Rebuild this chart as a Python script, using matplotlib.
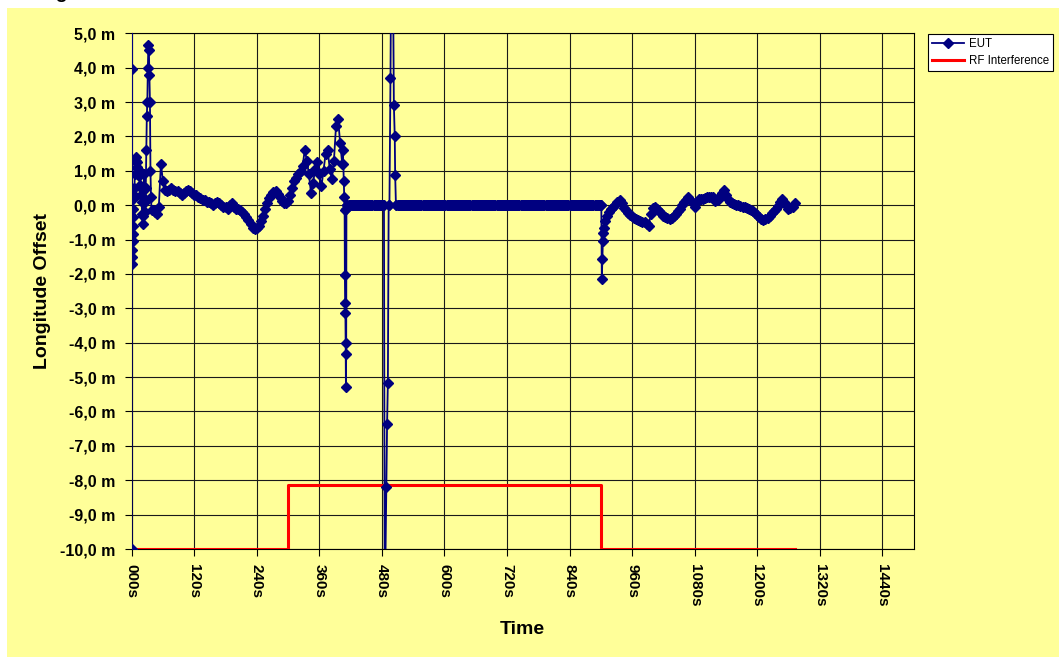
import numpy as np
import matplotlib.pyplot as plt
from matplotlib.patches import Rectangle

plt.rcParams['font.family'] = ['Liberation Sans', 'DejaVu Sans']

# EUT longitude offset (m) against time (s)
start_t = [0, 0.1, 0.3, 0.6, 0.9, 1.2, 1.5, 1.8, 2.1, 2.4, 2.7, 3.0, 3.5, 4, 5, 6, 7, 8, 9, 10,
           11, 12, 13, 14, 15, 16, 17, 18, 19, 20, 21, 22, 23, 24, 25, 26, 27, 28, 29, 30,
           31, 32, 33, 34, 35, 36, 37, 38]
start_v = [-10.0, 9.0, 3.97, 0.45, -1.7, -1.5, -1.3, -1.05, -0.85, -0.6, -0.35, -0.1, 0.2, 0.5, 0.3, 0.9, 1.3, 1.4, 1.3, 1.25,
           1.1, 0.95, 1.05, 0.85, 0.9, 0.6, 0.3, 0.5, 0.1, -0.25, -0.55, -0.3, 0.2, 0.9, 0.1, -0.2, 0.5, 1.6, 2.6, 3.0,
           4.0, 4.67, 4.5, 3.8, 3.0, 1.0, 0.25, -0.15]

early_t = list(range(40, 405, 4))
early_v = [-0.15, -0.2, -0.25, -0.05, 1.2, 0.7, 0.45, 0.4, 0.45, 0.5,
           0.45, 0.4, 0.4, 0.35, 0.3, 0.35, 0.4, 0.45, 0.4, 0.35,
           0.3, 0.3, 0.25, 0.2, 0.15, 0.15, 0.1, 0.1, 0.05, 0.0,
           0.05, 0.1, 0.05, 0.0, -0.05, -0.05, -0.1, 0.0, 0.05, -0.05,
           -0.1, -0.1, -0.15, -0.2, -0.25, -0.33, -0.42, -0.55, -0.65, -0.68,
           -0.67, -0.6, -0.45, -0.3, -0.12, 0.05, 0.2, 0.3, 0.38, 0.4,
           0.32, 0.25, 0.12, 0.06, 0.06, 0.12, 0.3, 0.5, 0.7, 0.8,
           0.9, 1.0, 1.15, 1.6, 1.3, 0.9, 0.35, 0.65, 1.05, 1.25,
           0.9, 0.55, 1.0, 1.5, 1.6, 1.05, 0.75, 1.3, 2.3, 2.5,
           1.8, 1.2]

drop1_t = [405, 406, 407, 408, 408.5, 409, 409.5, 410, 410.5, 411, 411.5, 412, 413]
drop1_v = [1.6, 1.2, 0.7, 0.25, -0.13, -2.03, -2.85, -3.14, -4.0, -5.3, -4.33, -0.1, 0.0]

# receiver holds a zero offset while the interference is on
hold1_t = list(range(414, 484, 2))
hold1_v = [0.0] * len(hold1_t)

spike_t = [484, 485.5, 488.5, 490, 491.5, 493, 494.5, 496.5, 498, 501, 503, 504.7, 505.5, 507]
spike_v = [0.0, -12.0, -8.2, -6.36, -5.17, 0.0, 0.0, 3.71, 7.5, 7.5, 2.92, 2.0, 0.88, 0.0]

hold2_t = list(range(508, 901, 2))
hold2_v = [0.0] * len(hold2_t)

drop2_t = [901, 902, 903, 904, 905, 906]
drop2_v = [0.0, -2.15, -1.57, -1.04, -0.8, -0.65]

late_t = list(range(908, 1273, 4))
late_v = [-0.45, -0.3, -0.2, -0.1, -0.05, 0.02, 0.1, 0.15, 0.05, -0.07,
          -0.15, -0.24, -0.28, -0.32, -0.36, -0.4, -0.44, -0.46, -0.48, -0.5,
          -0.55, -0.6, -0.25, -0.08, -0.05, -0.12, -0.18, -0.24, -0.3, -0.35,
          -0.37, -0.39, -0.36, -0.31, -0.26, -0.18, -0.1, 0.0, 0.08, 0.16,
          0.24, 0.15, 0.05, -0.04, 0.1, 0.19, 0.19, 0.18, 0.2, 0.23,
          0.24, 0.25, 0.24, 0.12, 0.15, 0.27, 0.35, 0.43, 0.3, 0.17,
          0.1, 0.06, 0.04, 0.02, 0.0, -0.02, -0.04, -0.06, -0.08, -0.1,
          -0.14, -0.18, -0.24, -0.29, -0.35, -0.4, -0.44, -0.4, -0.36, -0.3,
          -0.24, -0.18, -0.1, -0.02, 0.1, 0.19, 0.1, 0.0, -0.1, -0.08,
          -0.05, 0.05]

# RF interference level
rf_t = [0, 300, 900, 1273]
rf_v = [-10.0, -8.15, -10.0, -10.0]

x_ticks = list(range(0, 1441, 120))
y_ticks = list(range(-10, 6))

eut_t = start_t + early_t + drop1_t + hold1_t + spike_t + hold2_t + drop2_t + late_t
eut_v = start_v + early_v + drop1_v + hold1_v + spike_v + hold2_v + drop2_v + late_v

W, H = 1059, 657
fig = plt.figure(figsize=(W / 100, H / 100), dpi=100)
fig.patch.set_facecolor('white')
fig.patches.append(Rectangle((7 / W, 0), 1, 1 - 8 / H, transform=fig.transFigure,
                             facecolor='#FFFF99', edgecolor='none', zorder=-10))
# chart title, cut off by the top edge as in the original screenshot
fig.text(20 / W, 1 + 2 / H, 'Longitude Offset', fontsize=14, fontweight='bold', va='baseline')

ax = fig.add_axes([131.7 / W, 1 - 549 / H, (913.5 - 131.7) / W, (549 - 33.3) / H])
ax.set_facecolor('#FFFF99')

ax.plot(rf_t, rf_v, color='#FF0000', lw=2.2, drawstyle='steps-post', label='RF Interference', zorder=3)
ax.plot(eut_t, eut_v, color='#000080', lw=1.3, marker='D', markersize=5.5, label='EUT', zorder=4)

ax.set_xlim(0, 1500)
ax.set_ylim(-10, 5)
ax.set_xticks(x_ticks)
ax.set_xticklabels([f'{t:03d}s' for t in x_ticks], rotation=-90, fontsize=11, fontweight='bold')
ax.set_yticks(y_ticks)
ax.set_yticklabels([f'{v:.1f} m'.replace('.', ',') for v in y_ticks], fontsize=11.5, fontweight='bold')
ax.tick_params(direction='out', length=5, width=0.8, color='black', pad=7)
ax.tick_params(axis='x', pad=6)
ax.grid(True, color='#1a1a1a', lw=0.8)
ax.set_axisbelow(True)
for s in ax.spines.values():
    s.set_color('black')
    s.set_linewidth(0.8)

ax.set_xlabel('Time', fontsize=14, fontweight='bold', labelpad=10)
ax.set_ylabel('Longitude Offset', fontsize=14, fontweight='bold', labelpad=6)

h, l = ax.get_legend_handles_labels()
leg = ax.legend([h[1], h[0]], [l[1], l[0]], loc='upper left', bbox_to_anchor=(928 / W, 1 - 34 / H),
                bbox_transform=fig.transFigure, fontsize=8.3, frameon=True, fancybox=False,
                edgecolor='black', framealpha=1, handlelength=2.8, handletextpad=0.4,
                borderpad=0.35, labelspacing=0.45, borderaxespad=0)
leg.get_frame().set_linewidth(0.8)
leg.legend_handles[0].set_markersize(5)

fig.savefig('out.png', dpi=100)
